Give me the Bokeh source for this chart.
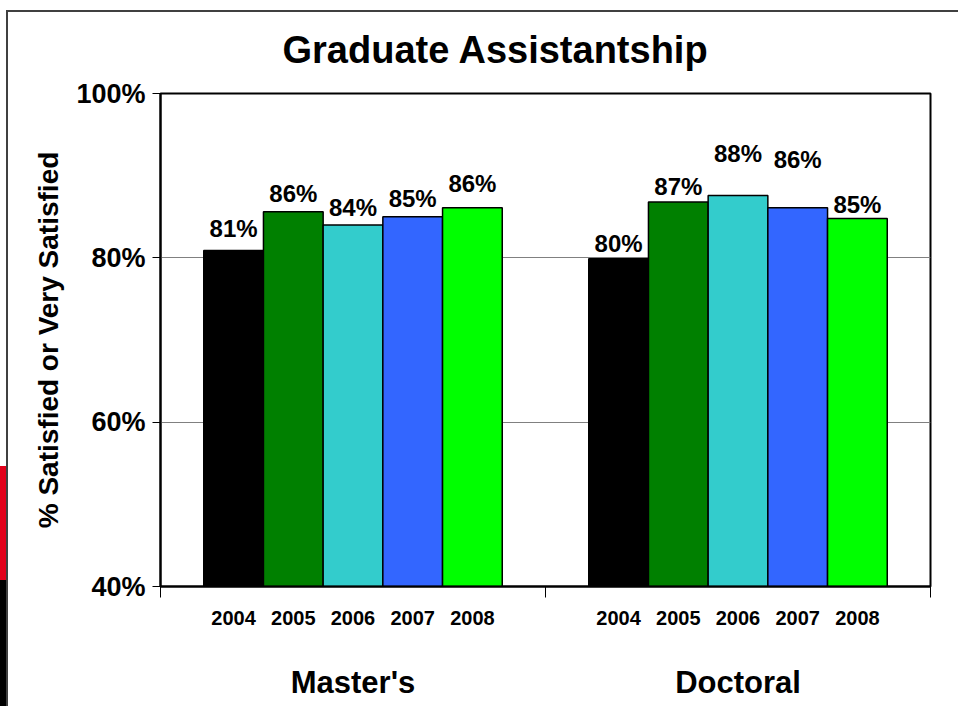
from bokeh.plotting import figure
from bokeh.models import (FixedTicker, PrintfTickFormatter, LabelSet, ColumnDataSource,
                          Range1d, LinearAxis, CustomJSTickFormatter)
from bokeh.core.properties import value
from bokeh.embed import file_html
from bokeh.resources import INLINE

# ---------------- data ----------------
title_text = "Graduate Assistantship"
y_title = "% Satisfied or Very Satisfied"
groups = ["Master's", "Doctoral"]
years = ["2004", "2005", "2006", "2007", "2008"]
masters = [80.9, 85.6, 84.0, 85.0, 86.1]
doctoral = [79.9, 86.8, 87.6, 86.1, 84.8]
y_ticks = [40, 60, 80, 100]
year_colors = ["#000000", "#008000", "#33CCCC", "#3366FF", "#00FF00"]
# label lift above bar top (px)
label_lift = [[22, 18, 17, 18, 24], [15, 15, 42, 48, 14]]

# ---------------- layout ----------------
W, H = 958, 706
FL, FR, FT, FB = 160, 930, 93, 586
Y_MIN, Y_MAX = 40, 100
X_MIN, X_MAX = 0, 2
PX_Y = (FB - FT) / (Y_MAX - Y_MIN)
PX_X = (FR - FL) / (X_MAX - X_MIN)
BAR_W = 59.7 / PX_X
FONT = "Liberation Sans"

series = [masters, doctoral]
xs, tops, cols, ly, lt = [], [], [], [], []
for g, vals in enumerate(series):
    for i, v in enumerate(vals):
        x = g + 0.5 + (i - 2) * BAR_W
        xs.append(x)
        tops.append(v)
        cols.append(year_colors[i])
        ly.append(v + label_lift[g][i] / PX_Y)
        lt.append(f"{round(v)}%")

bars = ColumnDataSource(dict(x=xs, top=tops, color=cols))
vlabels = ColumnDataSource(dict(x=xs, y=ly, text=lt))

p = figure(width=W, height=H, x_range=Range1d(X_MIN, X_MAX), y_range=Range1d(Y_MIN, Y_MAX),
           output_backend="svg", toolbar_location=None, title=title_text,
           min_border_left=FL, min_border_right=W - FR, min_border_top=FT, min_border_bottom=H - FB)
# slide frame lines and the strip at the far left (page decoration)
p.styles = {
    "background": ("linear-gradient(#404040,#404040) 6px 10px / 2px 100% no-repeat, "
                   "linear-gradient(#404040,#404040) 6px 10px / 100% 2px no-repeat, "
                   "linear-gradient(#E2001A,#E2001A) 0px 466px / 6px 114px no-repeat, "
                   "linear-gradient(#000000,#000000) 0px 580px / 6px 126px no-repeat, white"),
}
p.background_fill_color = "white"
p.border_fill_alpha = 0
p.outline_line_color = "black"
p.outline_line_width = 2

p.title.align = "left"
p.title.offset = 122
p.title.standoff = 46
p.title.text_font = FONT
p.title.text_font_style = "bold"
p.title.text_font_size = "38px"
p.title.text_color = "black"

p.xgrid.visible = False
p.ygrid.grid_line_color = "#808080"
p.ygrid.grid_line_width = 1

p.vbar(x="x", top="top", bottom=Y_MIN, width=BAR_W, fill_color="color",
       line_color="black", line_width=1.5, source=bars)

# x axis: year labels under bars, ticks only at group boundaries
xa = p.xaxis[0]
xa.ticker = FixedTicker(ticks=xs, minor_ticks=[0, 1, 2])
xa.formatter = CustomJSTickFormatter(args=dict(labels=years * len(groups)),
                                     code="return labels[index]")
xa.major_tick_out = 0
xa.major_tick_in = 0
xa.major_tick_line_color = None
xa.minor_tick_out = 11
xa.minor_tick_in = 0
xa.minor_tick_line_color = "black"
xa.minor_tick_line_width = 1
xa.axis_line_color = "black"
xa.axis_line_width = 2
xa.major_label_standoff = 13
xa.major_label_text_font = FONT
xa.major_label_text_font_style = "bold"
xa.major_label_text_font_size = "20px"
xa.major_label_text_color = "black"

ga = LinearAxis(ticker=FixedTicker(ticks=[g + 0.5 for g in range(len(groups))]),
                formatter=CustomJSTickFormatter(args=dict(labels=groups), code="return labels[index]"),
                axis_line_color=None, major_tick_line_color=None, minor_tick_line_color=None,
                major_tick_out=0, major_tick_in=0, major_label_standoff=37,
                major_label_text_font=FONT, major_label_text_font_style="bold",
                major_label_text_font_size="31px", major_label_text_color="black")
p.add_layout(ga, "below")

# y axis
p.yaxis.ticker = FixedTicker(ticks=y_ticks)
p.yaxis.formatter = PrintfTickFormatter(format="%d%%")
p.yaxis.major_tick_out = 8
p.yaxis.major_tick_in = 0
p.yaxis.major_label_standoff = 7
p.yaxis.major_label_text_font = FONT
p.yaxis.major_label_text_font_style = "bold"
p.yaxis.major_label_text_font_size = "27px"
p.yaxis.major_label_text_color = "black"
p.yaxis.axis_line_color = "black"
p.yaxis.axis_line_width = 2
p.yaxis.major_tick_line_color = "black"
p.yaxis.axis_label = y_title
p.yaxis.axis_label_text_font = FONT
p.yaxis.axis_label_text_font_style = "bold"
p.yaxis.axis_label_text_font_size = "28px"
p.yaxis.axis_label_text_color = "black"
p.yaxis.axis_label_standoff = 9

p.add_layout(LabelSet(x="x", y="y", text="text", source=vlabels, text_align="center",
                      text_baseline="middle", text_font=value(FONT), text_font_style="bold",
                      text_font_size="24px", text_color="black"))

open("out.html", "w").write(file_html(p, INLINE))
